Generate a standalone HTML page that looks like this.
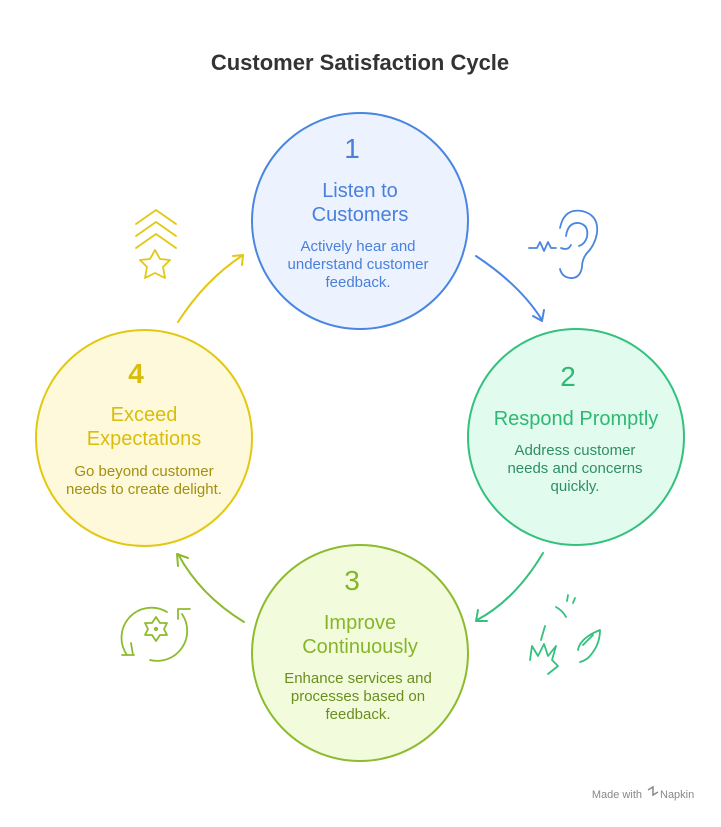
<!DOCTYPE html>
<html><head><meta charset="utf-8"><style>
body{margin:0;background:#fff;}
svg text{font-family:"Liberation Sans",sans-serif;}
</style></head><body>
<svg width="721" height="822" viewBox="0 0 721 822" xmlns="http://www.w3.org/2000/svg">
<text x="360" y="70" text-anchor="middle" font-size="22" font-weight="bold" fill="#333">Customer Satisfaction Cycle</text>

<circle cx="360" cy="221" r="108" fill="#ecf3fe" stroke="#4a86e0" stroke-width="2"/>
<circle cx="576" cy="437" r="108" fill="#e2fbef" stroke="#33c17d" stroke-width="2"/>
<circle cx="360" cy="653" r="108" fill="#f2fcdc" stroke="#8dbb2e" stroke-width="2"/>
<circle cx="144" cy="438" r="108" fill="#fef9db" stroke="#e2c811" stroke-width="2"/>

<g fill="#4a7fdc" text-anchor="middle">
<text x="352" y="158" font-size="28">1</text>
<text x="360" y="197" font-size="20">Listen to</text>
<text x="360" y="221" font-size="20">Customers</text>
<text x="358" y="251" font-size="15">Actively hear and</text>
<text x="358" y="269" font-size="15">understand customer</text>
<text x="358" y="287" font-size="15">feedback.</text>
</g>
<g fill="#2fb873" text-anchor="middle">
<text x="568" y="386" font-size="28">2</text>
<text x="576" y="425" font-size="20">Respond Promptly</text>
</g>
<g fill="#2f8f62" text-anchor="middle" font-size="15">
<text x="575" y="455">Address customer</text>
<text x="575" y="473">needs and concerns</text>
<text x="575" y="491">quickly.</text>
</g>
<g fill="#86b52a" text-anchor="middle">
<text x="352" y="590" font-size="28">3</text>
<text x="360" y="629" font-size="20">Improve</text>
<text x="360" y="653" font-size="20">Continuously</text>
</g>
<g fill="#6b8e1f" text-anchor="middle" font-size="15">
<text x="358" y="683">Enhance services and</text>
<text x="358" y="701">processes based on</text>
<text x="358" y="719">feedback.</text>
</g>
<g fill="#d9bd0c" text-anchor="middle">
<text x="136" y="383" font-size="28" font-weight="bold">4</text>
<text x="144" y="421" font-size="20">Exceed</text>
<text x="144" y="445" font-size="20">Expectations</text>
</g>
<g fill="#a38f10" text-anchor="middle" font-size="15">
<text x="144" y="476">Go beyond customer</text>
<text x="144" y="494">needs to create delight.</text>
</g>

<g fill="none" stroke-width="2" stroke-linecap="round" stroke-linejoin="round">
<path d="M476 256 Q520 285 542 320" stroke="#4a86e0"/>
<path d="M533 316 L542 321 L544 310" stroke="#4a86e0"/>
<path d="M543 553 Q515 600 477 620" stroke="#33c17d"/>
<path d="M478 610 L476 621 L487 621" stroke="#33c17d"/>
<path d="M244 622 Q200 595 178 554" stroke="#8dbb2e"/>
<path d="M178 566 L177 554 L188 558" stroke="#8dbb2e"/>
<path d="M178 322 Q205 280 243 255" stroke="#e2c811"/>
<path d="M233 256 L243 255 L242 265" stroke="#e2c811"/>

<g stroke="#4a86e0" stroke-width="1.8">
<path d="M529 248 h8 l3 -6 l4 9 l4 -9 l3 6 h5"/>
<path d="M560 228 q4 -20 22 -17 q17 4 15 22 q-2 12 -10 20 q-5 6 -5 14 q-2 12 -12 11 q-8 -1 -10 -9"/>
<path d="M566 236 q2 -14 13 -13 q10 2 8 14 q-2 7 -8 9"/>
<path d="M561 248 q7 3 10 -3"/>
</g>
<g stroke="#33c17d" stroke-width="1.8">
<path d="M530 660 l2 -14 l6 10 l6 -12 l4 12 l8 -10 l-4 14 l6 6 l-10 8"/>
<path d="M545 626 l-4 14"/>
<path d="M556 607 q7 4 10 10"/>
<path d="M568 595 l-1 6 M575 598 l-2 5"/>
<path d="M578 650 q2 -12 22 -20 q0 16 -12 28 q-4 3 -8 4 M583 645 l10 -10"/>
</g>
<g stroke="#8dbb2e" stroke-width="1.8">
<path d="M167 612 a30 30 0 0 0 -40 43"/>
<path d="M122 655 h12 M131 643 l2 12"/>
<path d="M150 660 a30 30 0 0 0 32 -46"/>
<path d="M190 609 h-12 l0 10"/>
<path d="M156 617 l4 6 l7 0 l-3 6 l3 6 l-7 0 l-4 6 l-4 -6 l-7 0 l3 -6 l-3 -6 l7 0 z"/>
<circle cx="156" cy="629" r="1.2"/>
</g>
<g stroke="#e2c811" stroke-width="1.8">
<path d="M136 224 l20 -14 l20 14 M136 236 l20 -14 l20 14 M136 248 l20 -14 l20 14"/>
<path d="M155 250 l5 9 l10 1 l-7 7 l2 11 l-10 -5 l-10 5 l2 -11 l-7 -7 l10 -1 z"/>
</g>
</g>
<text x="642" y="798" text-anchor="end" font-size="11" fill="#888">Made with</text>
<path d="M648 790 l5 -3 v8 l5 -3" stroke="#888" fill="none" stroke-width="1.5"/>
<text x="660" y="798" font-size="11" fill="#888">Napkin</text>
</svg>
</body></html>
